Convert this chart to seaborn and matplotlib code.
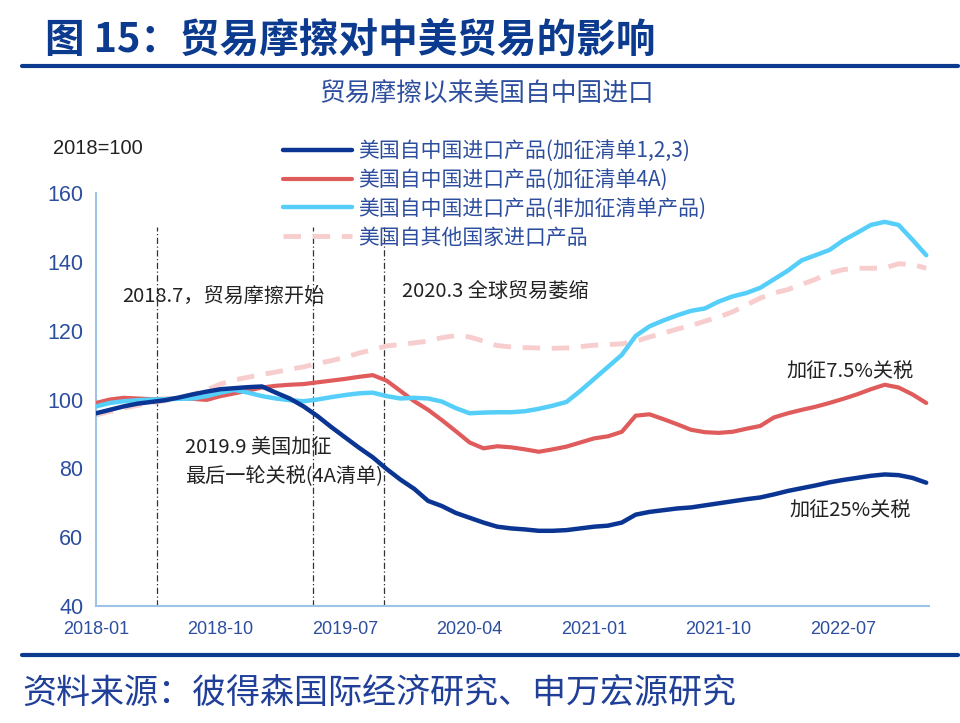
import matplotlib
matplotlib.use("Agg")
import matplotlib.pyplot as plt
from matplotlib.lines import Line2D
import seaborn as sns
import pandas as pd
import numpy as np

# ---------------- data ----------------
months = pd.date_range("2018-01-01", "2023-01-01", freq="MS").strftime("%Y-%m").tolist()

list123 = [96, 97, 98, 98.8, 99.3, 99.8, 100.6, 101.5, 102.3, 103, 103.3, 103.6, 103.8,
           102, 100.3, 98, 95.2, 92, 89, 86, 83.2, 79.8, 76.7, 74, 70.5, 69, 67, 65.6,
           64.2, 63, 62.5, 62.2, 61.8, 61.8, 62, 62.5, 63, 63.3, 64.2, 66.5, 67.3, 67.8,
           68.3, 68.6, 69.2, 69.8, 70.4, 71, 71.5, 72.4, 73.4, 74.2, 75, 75.9, 76.6,
           77.2, 77.8, 78.2, 78, 77.2, 75.8]

list4a = [99, 100, 100.5, 100.3, 100.1, 100.2, 100.3, 100.2, 99.9, 101, 101.8, 102.6,
          103.5, 104, 104.3, 104.5, 105, 105.5, 106, 106.6, 107.1, 105.5, 102.5, 99.5,
          97, 94, 90.8, 87.5, 85.8, 86.4, 86.1, 85.5, 84.8, 85.5, 86.3, 87.5, 88.7,
          89.3, 90.6, 95.3, 95.7, 94.3, 92.8, 91.2, 90.5, 90.3, 90.6, 91.5, 92.3, 94.8,
          96, 97, 97.9, 99, 100.2, 101.5, 103, 104.3, 103.5, 101.5, 99]

non_tariff = [98, 99, 99.5, 99.8, 100, 100.1, 100.2, 100.3, 101, 102, 102.8, 102, 101,
              100.3, 99.8, 99.5, 100, 100.7, 101.3, 101.8, 102, 101, 100.3, 100.5, 100.3,
              99.4, 97.5, 96, 96.2, 96.3, 96.3, 96.6, 97.3, 98.2, 99.3, 102.5, 106, 109.5,
              113, 118.5, 121.3, 123, 124.5, 125.8, 126.5, 128.5, 130, 131, 132.5, 135,
              137.5, 140.5, 142, 143.5, 146.3, 148.5, 150.8, 151.7, 150.8, 146.5, 142]

other_countries = [95.5, 96.5, 97.5, 98.3, 99, 99.7, 100.4, 101.5, 102.8, 104.5, 105.7,
                   106.5, 107.3, 108, 108.8, 109.5, 110.5, 111.3, 112.3, 113.5, 114.5,
                   115.6, 116, 116.5, 117, 118, 118.6, 118.2, 117, 115.7, 115.3, 115.1,
                   115, 114.9, 115, 115.4, 115.8, 116, 116.2, 117, 118.2, 119.3, 120.5,
                   121.5, 122.8, 124, 125.5, 127.5, 129.5, 131, 132, 133.5, 135, 136.8,
                   137.8, 138.2, 138.2, 138.3, 139.5, 139.3, 138.2]

series_names = ["美国自中国进口产品(加征清单1,2,3)", "美国自中国进口产品(加征清单4A)",
                "美国自中国进口产品(非加征清单产品)", "美国自其他国家进口产品"]

xtick_labels = ["2018-01", "2018-10", "2019-07", "2020-04", "2021-01", "2021-10", "2022-07"]
yticks = [40, 60, 80, 100, 120, 140, 160]

# event reference lines (position in months from 2018-01)
event_x = [4.4, 15.7, 20.8]

# ---------------- style ----------------
sns.set_theme(style="white")
plt.rcParams["font.family"] = ["Noto Sans CJK SC", "DejaVu Sans"]

DARK = "#0A3592"
RED = "#E05B5B"
CYAN = "#55CFFA"
PINK = "#F7CDCD"
AXBLUE = "#9DC3E6"
TXTBLUE = "#2D4E9E"
TITLEBLUE = "#0B3A8E"

fig = plt.figure(figsize=(9.6, 7.23), dpi=100)
ax = fig.add_axes([0.100, 0.1622, 0.8677, 0.5704])

x = np.arange(len(months))
df = pd.DataFrame({"x": x, "a": list123, "b": list4a, "c": non_tariff, "d": other_countries})

sns.lineplot(data=df, x="x", y="d", ax=ax, color=PINK, lw=3.5, label=series_names[3],
             zorder=2).lines[-1].set_dashes([3.6, 2.4])
sns.lineplot(data=df, x="x", y="b", ax=ax, color=RED, lw=3.0, label=series_names[1], zorder=3)
sns.lineplot(data=df, x="x", y="c", ax=ax, color=CYAN, lw=3.2, label=series_names[2], zorder=4)
sns.lineplot(data=df, x="x", y="a", ax=ax, color=DARK, lw=3.2, label=series_names[0], zorder=5)

for ex in event_x:
    ax.plot([ex, ex], [40, 150.2], color="#333333", lw=0.9, ls=(0, (5, 2, 1, 2)), zorder=1)

ax.set_xlim(0, 60.2)
ax.set_ylim(40, 160)
ax.set_xticks([0, 9, 18, 27, 36, 45, 54])
ax.set_xticklabels(xtick_labels, family=["Liberation Sans"], fontsize=13, color=TXTBLUE)
ax.set_yticks(yticks)
ax.set_yticklabels([str(v) for v in yticks], family=["Liberation Sans"], fontsize=15.5,
                   color=TXTBLUE)
ax.set_xlabel("")
ax.set_ylabel("")
for s in ["top", "right"]:
    ax.spines[s].set_visible(False)
for s in ["left", "bottom"]:
    ax.spines[s].set_color(AXBLUE)
    ax.spines[s].set_linewidth(1.5)
ax.tick_params(axis="both", direction="out", length=6, width=1.2, color=AXBLUE)
ax.tick_params(axis="y", pad=3)
ax.tick_params(axis="x", pad=5)

# legend
handles, labels = ax.get_legend_handles_labels()
order = [labels.index(n) for n in series_names]
ax.get_legend().remove()
fig.legend([handles[i] for i in order], [labels[i] for i in order],
           loc="upper left", bbox_to_anchor=(283 / 960, 1 - 140 / 723),
           frameon=False, borderpad=0, borderaxespad=0, handlelength=3.3,
           handletextpad=0.3, labelspacing=0.33, fontsize=15, labelcolor=TXTBLUE)

# annotations
ann = dict(color="#222222", fontsize=14.5, va="center", ha="left")
ax.text(1.9, 130.1, "2018.7，贸易摩擦开始", **ann)
ax.text(22.1, 131.4, "2020.3 全球贸易萎缩", **ann)
ax.text(6.45, 85.9, "2019.9 美国加征", **ann)
ax.text(6.45, 77.6, "最后一轮关税(4A清单)", **ann)
ax.text(49.9, 108.1, "加征7.5%关税", **ann)
ax.text(50.1, 67.8, "加征25%关税", **ann)

fig.text(53 / 960, 1 - 148 / 723, "2018=100", fontsize=14.5, color="#222222",
         va="center", ha="left", family=["Liberation Sans"])

# title, subtitle, rules, source
fig.text(45 / 960, 1 - 40 / 723, "图 15：贸易摩擦对中美贸易的影响", fontsize=28.5,
         fontweight="bold", color=TITLEBLUE, va="center", ha="left")
fig.add_artist(Line2D([22 / 960, 958 / 960], [1 - 66 / 723, 1 - 66 / 723],
                      color=TITLEBLUE, lw=3))
fig.text(487 / 960, 1 - 95 / 723, "贸易摩擦以来美国自中国进口", fontsize=18.5,
         color=TXTBLUE, va="center", ha="center")
fig.add_artist(Line2D([22 / 960, 958 / 960], [1 - 655 / 723, 1 - 655 / 723],
                      color=TITLEBLUE, lw=3))
fig.text(22 / 960, 1 - 693 / 723, "资料来源：彼得森国际经济研究、申万宏源研究", fontsize=24.5,
         color="#1F3F99", va="center", ha="left")

fig.savefig("out.png", dpi=100)
